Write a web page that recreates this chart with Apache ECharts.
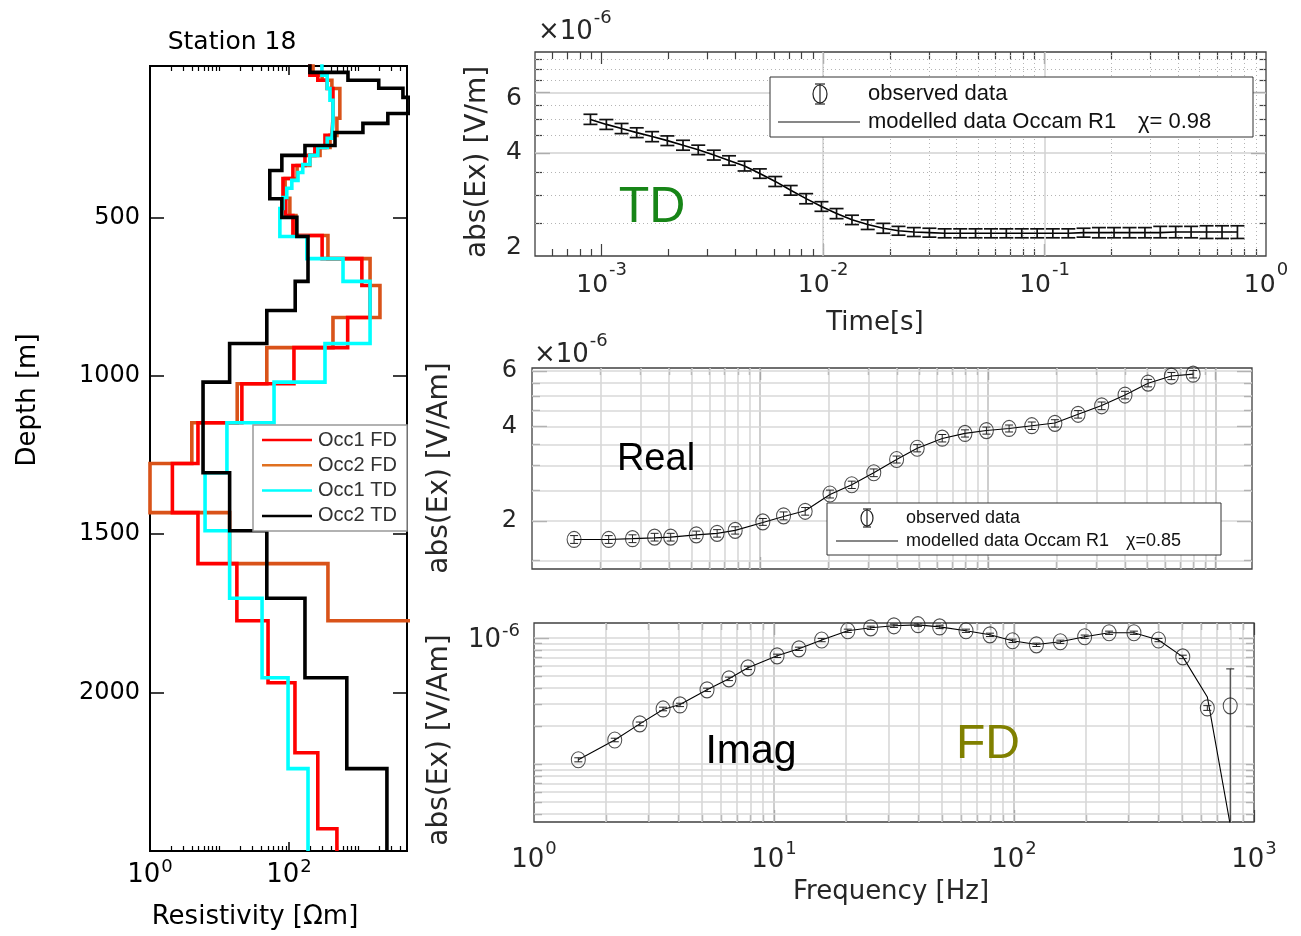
<!DOCTYPE html>
<html><head><meta charset="utf-8"><title>Station 18</title>
<script src="https://cdn.jsdelivr.net/npm/echarts@6.0.0/dist/echarts.min.js"></script>
<style>html,body{margin:0;padding:0;background:#fff;}#chart{width:1301px;height:936px;}</style>
</head><body><div id="chart"></div>
<script>
// ================= DATA =================
// --- Left panel: layered resistivity models (layer top depth [m], resistivity [Ohm m])
const depthMax = 2500;
const occ1FDTop = [0, 51, 67, 93, 187, 241, 279, 304, 336, 377, 440, 494, 557, 630, 715, 816, 911, 1025, 1148, 1277, 1432, 1593, 1773, 1969, 2190, 2430];
const occ1FDRho = [200, 260, 355, 430, 415, 330, 236, 170, 114, 82, 90, 114, 300, 1120, 1470, 700, 118, 21, 4.9, 2.1, 4.9, 17.8, 50, 122, 260, 490];
const occ2FDTop = [0, 51, 67, 93, 187, 241, 279, 304, 336, 377, 440, 494, 557, 630, 715, 816, 911, 1025, 1148, 1277, 1432, 1593, 1773, 1969, 2190, 2430];
const occ2FDRho = [222, 300, 415, 540, 490, 390, 280, 200, 131, 88, 103, 126, 364, 1470, 2040, 430, 48, 18, 4.0, 1.0, 14, 364, 20000, 20000, 20000, 20000];
const occ1TDTop = [0, 51, 93, 130, 200, 250, 279, 304, 333, 358, 383, 408, 437, 472, 560, 630, 702, 898, 1020, 1148, 1306, 1489, 1702, 1953, 2240];
const occ1TDRho = [298, 355, 389, 430, 415, 355, 260, 200, 158, 135, 110, 93, 82, 74, 181, 600, 1470, 330, 61, 12.8, 6.2, 14, 41, 97, 188];
const occ2TDTop = [0, 42, 67, 92, 121, 172, 203, 232, 273, 304, 352, 441, 500, 560, 702, 794, 898, 1020, 1306, 1489, 1702, 1953, 2240];
const occ2TDRho = [200, 707, 1960, 4370, 5500, 2650, 1160, 460, 170, 79, 53, 79, 130, 188, 123, 48, 14, 5.8, 14, 48, 170, 680, 2570];

// --- TD panel: time [s], abs(Ex) [x1e-6 V/m]
const tdTime = [0.00089, 0.00105, 0.00123, 0.00144, 0.00169, 0.00198, 0.00233, 0.00273, 0.00321, 0.00376, 0.00442, 0.00518, 0.00608, 0.00714, 0.00838, 0.00983, 0.0115, 0.0135, 0.0159, 0.0187, 0.0219, 0.0257, 0.0302, 0.0354, 0.0416, 0.0488, 0.0573, 0.0672, 0.0789, 0.0926, 0.109, 0.128, 0.150, 0.176, 0.206, 0.242, 0.284, 0.333, 0.391, 0.459, 0.539, 0.633, 0.743];
const tdObs = [5.01, 4.84, 4.71, 4.58, 4.46, 4.34, 4.21, 4.08, 3.94, 3.80, 3.66, 3.48, 3.30, 3.11, 2.94, 2.79, 2.66, 2.55, 2.47, 2.41, 2.37, 2.35, 2.34, 2.33, 2.33, 2.33, 2.33, 2.33, 2.33, 2.33, 2.33, 2.33, 2.34, 2.34, 2.34, 2.34, 2.34, 2.35, 2.35, 2.35, 2.35, 2.35, 2.35];
const tdErr = [0.17, 0.16, 0.16, 0.15, 0.15, 0.14, 0.14, 0.13, 0.13, 0.12, 0.12, 0.11, 0.11, 0.10, 0.10, 0.09, 0.09, 0.08, 0.08, 0.08, 0.07, 0.07, 0.07, 0.07, 0.07, 0.07, 0.07, 0.07, 0.07, 0.07, 0.07, 0.07, 0.07, 0.08, 0.08, 0.08, 0.08, 0.09, 0.09, 0.09, 0.10, 0.10, 0.10];
const tdModel = [5.00, 4.84, 4.71, 4.58, 4.46, 4.34, 4.21, 4.08, 3.94, 3.80, 3.66, 3.48, 3.30, 3.11, 2.94, 2.79, 2.66, 2.55, 2.47, 2.41, 2.37, 2.35, 2.34, 2.33, 2.33, 2.33, 2.33, 2.33, 2.33, 2.33, 2.33, 2.33, 2.34, 2.34, 2.34, 2.34, 2.34, 2.34, 2.35, 2.35, 2.35, 2.35, 2.35];

// --- FD panels: frequency [Hz], abs(Ex) [x1e-6 V/Am]
const freq = [1.53, 2.17, 2.76, 3.45, 4.06, 5.26, 6.49, 7.79, 10.3, 12.7, 15.8, 20.3, 25.3, 31.6, 39.8, 49.0, 63.1, 79.4, 98.6, 124, 156, 197, 249, 316, 400, 505, 639, 796];
const realObs = [1.75, 1.75, 1.76, 1.78, 1.78, 1.81, 1.83, 1.87, 1.99, 2.08, 2.15, 2.44, 2.61, 2.85, 3.14, 3.41, 3.67, 3.80, 3.88, 3.94, 4.02, 4.09, 4.37, 4.65, 5.03, 5.49, 5.78, 5.86];
const realErr = [0.05, 0.05, 0.05, 0.05, 0.05, 0.05, 0.05, 0.05, 0.05, 0.06, 0.06, 0.07, 0.07, 0.08, 0.08, 0.09, 0.10, 0.10, 0.10, 0.10, 0.11, 0.11, 0.12, 0.13, 0.14, 0.15, 0.15, 0.16];
const realModel = [1.75, 1.75, 1.76, 1.77, 1.78, 1.81, 1.83, 1.87, 1.98, 2.07, 2.16, 2.43, 2.61, 2.85, 3.14, 3.41, 3.66, 3.80, 3.88, 3.94, 4.02, 4.10, 4.37, 4.66, 5.03, 5.48, 5.78, 5.86];
const imagObs = [0.108, 0.155, 0.208, 0.273, 0.294, 0.387, 0.473, 0.578, 0.720, 0.818, 0.960, 1.137, 1.200, 1.245, 1.270, 1.220, 1.137, 1.056, 0.947, 0.880, 0.930, 1.020, 1.096, 1.096, 0.960, 0.706, 0.278, 0.289];
const imagErr = [0.004, 0.005, 0.007, 0.009, 0.009, 0.012, 0.015, 0.018, 0.022, 0.025, 0.029, 0.034, 0.036, 0.037, 0.038, 0.037, 0.034, 0.032, 0.029, 0.027, 0.028, 0.031, 0.033, 0.033, 0.029, 0.022, 0.012, 0.278];
const imagModel = [0.108, 0.155, 0.208, 0.270, 0.296, 0.387, 0.473, 0.578, 0.720, 0.818, 0.960, 1.137, 1.200, 1.245, 1.265, 1.220, 1.137, 1.056, 0.947, 0.885, 0.930, 1.020, 1.096, 1.096, 0.960, 0.706, 0.340, 0.033];

// --- Tick values / labels
const resMajor = [100];
const resMinor = [2, 3, 4, 5, 6, 7, 8, 9, 10, 20, 30, 40, 50, 60, 70, 80, 90, 200, 300, 400, 500, 600, 700, 800, 900, 1000, 2000, 3000, 4000];
const resLabels = [1, 100];
const depthTicks = [500, 1000, 1500, 2000];
const tdTimeMajor = [0.001, 0.01, 0.1];
const tdTimeMinor = [0.0006, 0.0007, 0.0008, 0.0009, 0.002, 0.003, 0.004, 0.005, 0.006, 0.007, 0.008, 0.009, 0.02, 0.03, 0.04, 0.05, 0.06, 0.07, 0.08, 0.09, 0.2, 0.3, 0.4, 0.5, 0.6, 0.7, 0.8, 0.9];
const tdTimeLabels = [0.001, 0.01, 0.1, 1];
const tdYMajor = [4, 6];
const tdYMinor = [2.5, 3, 3.5, 4.5, 5, 5.5, 6.5, 7, 7.5];
const tdYLabels = [2, 4, 6];
const freqMajor = [10, 100, 1000];
const freqMinor = [2, 3, 4, 5, 6, 7, 8, 9, 20, 30, 40, 50, 60, 70, 80, 90, 200, 300, 400, 500, 600, 700, 800, 900];
const freqLabels = [1, 10, 100, 1000];
const realYMajor = [2, 4, 6];
const realYMinor = [1.5, 2.5, 3, 3.5, 4.5, 5, 5.5];
const imagYMajor = [1];
const imagYMinor = [0.04, 0.05, 0.06, 0.07, 0.08, 0.09, 0.1, 0.2, 0.3, 0.4, 0.5, 0.6, 0.7, 0.8, 0.9];

// ================= CHART =================
const DJ = "'DejaVu Sans', sans-serif";
const LS = "'Liberation Sans', Arial, sans-serif";
const LSN = "'Liberation Sans Narrow', 'Liberation Sans', Arial, sans-serif";
const AX = '#262626', TK = '#404040';

const xAxes = [], yAxes = [];
function addAxis(list, grid, scale, pos, vals, len, color, width, label) {
  list.push(Object.assign({
    gridIndex: grid, position: pos, silent: true,
    axisLine: {show: false, onZero: false},
    splitLine: {show: false},
    axisTick: {show: true, inside: true, length: len, customValues: vals, lineStyle: {color: color, width: width}},
    axisLabel: label || {show: false}
  }, scale));
  return list.length - 1;
}
const expFmt = v => '{b|10}{s|' + Math.round(Math.log10(v)) + '}';
function supRich(size, supSize, lh, color) {
  return {
    b: {fontSize: size, fontFamily: DJ, color: color, lineHeight: lh, verticalAlign: 'bottom'},
    s: {fontSize: supSize, fontFamily: DJ, color: color, verticalAlign: 'top', padding: [0, 0, 0, 1]}
  };
}

// Grid 0 : resistivity profile
const sRes = {type: 'log', logBase: 10, min: 1, max: 5000};
const sDepth = {type: 'value', min: 22, max: depthMax, inverse: true};
const gx0 = addAxis(xAxes, 0, sRes, 'bottom', resMajor, 9, '#000', 1.5,
  {show: true, customValues: resLabels, margin: 7, formatter: expFmt, rich: supRich(26, 18, 30, '#000')});
addAxis(xAxes, 0, sRes, 'bottom', resMinor, 5, '#000', 1.2);
addAxis(xAxes, 0, sRes, 'top', resMajor, 9, '#000', 1.5);
addAxis(xAxes, 0, sRes, 'top', resMinor, 5, '#000', 1.2);
const gy0 = addAxis(yAxes, 0, sDepth, 'left', depthTicks, 14, '#000', 1.5,
  {show: true, customValues: depthTicks, margin: 10, fontSize: 24, fontFamily: DJ, color: '#000',
   formatter: v => String(Math.round(v))});
addAxis(yAxes, 0, sDepth, 'right', depthTicks, 14, '#000', 1.5);

// Grid 1 : TD
const sTime = {type: 'log', logBase: 10, min: 0.0005, max: 1};
const sTD = {type: 'log', logBase: 10, min: 2.0, max: 7.87};
const gx1 = addAxis(xAxes, 1, sTime, 'bottom', tdTimeMajor, 12, TK, 1.2,
  {show: true, customValues: tdTimeLabels, margin: 5, formatter: expFmt, rich: supRich(25, 18, 37, AX)});
addAxis(xAxes, 1, sTime, 'bottom', tdTimeMinor, 7, TK, 1.2);
addAxis(xAxes, 1, sTime, 'top', tdTimeMajor, 12, TK, 1.2);
addAxis(xAxes, 1, sTime, 'top', tdTimeMinor, 7, TK, 1.2);
const tdYRich = {
  n: {fontSize: 25, fontFamily: DJ, color: AX},
  lo: {fontSize: 25, fontFamily: DJ, color: AX, padding: [0, 0, 18, 0]},
  hi: {fontSize: 25, fontFamily: DJ, color: AX, padding: [12, 0, 0, 0]}
};
const gy1 = addAxis(yAxes, 1, sTD, 'left', tdYMajor, 15, TK, 1.2,
  {show: true, customValues: tdYLabels, margin: 13,
   formatter: v => (Math.abs(v - 2) < 1e-6 ? '{lo|2}' : (Math.abs(v - 6) < 1e-6 ? '{hi|6}' : '{n|' + Math.round(v) + '}')), rich: tdYRich});
addAxis(yAxes, 1, sTD, 'left', tdYMinor, 7, TK, 1.2);
addAxis(yAxes, 1, sTD, 'right', tdYMajor, 15, TK, 1.2);
addAxis(yAxes, 1, sTD, 'right', tdYMinor, 7, TK, 1.2);

// Grid 2 : Real
const sFreqR = {type: 'log', logBase: 10, min: 1, max: 1443};
const sReal = {type: 'log', logBase: 10, min: 1.41, max: 6.13};
const gx2 = addAxis(xAxes, 2, sFreqR, 'bottom', freqMajor, 12, TK, 1.2);
addAxis(xAxes, 2, sFreqR, 'bottom', freqMinor, 7, TK, 1.2);
addAxis(xAxes, 2, sFreqR, 'top', freqMajor, 12, TK, 1.2);
addAxis(xAxes, 2, sFreqR, 'top', freqMinor, 7, TK, 1.2);
const gy2 = addAxis(yAxes, 2, sReal, 'left', realYMajor, 15, TK, 1.2,
  {show: true, customValues: realYMajor, margin: 15, fontSize: 24, fontFamily: DJ, color: AX});
addAxis(yAxes, 2, sReal, 'left', realYMinor, 8, TK, 1.2);
addAxis(yAxes, 2, sReal, 'right', realYMajor, 15, TK, 1.2);
addAxis(yAxes, 2, sReal, 'right', realYMinor, 8, TK, 1.2);

// Grid 3 : Imag
const sFreqI = {type: 'log', logBase: 10, min: 1, max: 1000};
const sImag = {type: 'log', logBase: 10, min: 0.0347, max: 1.31};
const gx3 = addAxis(xAxes, 3, sFreqI, 'bottom', freqMajor, 12, TK, 1.2,
  {show: true, customValues: freqLabels, margin: 18, formatter: expFmt, rich: supRich(26, 18, 33, AX)});
addAxis(xAxes, 3, sFreqI, 'bottom', freqMinor, 7, TK, 1.2);
addAxis(xAxes, 3, sFreqI, 'top', freqMajor, 12, TK, 1.2);
addAxis(xAxes, 3, sFreqI, 'top', freqMinor, 7, TK, 1.2);
const gy3 = addAxis(yAxes, 3, sImag, 'left', imagYMajor, 15, TK, 1.2,
  {show: true, customValues: imagYMajor, margin: 14, formatter: v => '{b|10}{s|' + Math.round(Math.log10(v * 1e-6)) + '}', rich: supRich(26, 18, 31, AX)});
addAxis(yAxes, 3, sImag, 'left', imagYMinor, 8, TK, 1.2);
addAxis(yAxes, 3, sImag, 'right', imagYMajor, 15, TK, 1.2);
addAxis(yAxes, 3, sImag, 'right', imagYMinor, 8, TK, 1.2);

// ---------- grid lines (drawn through the axes as mark lines) ----------
const solidTD = {color: '#d2d2d2', width: 1.5, type: 'solid'};
const dotTD = {color: '#b4b4b4', width: 1, type: [1, 3]};
const gLine = {color: '#d8d8d8', width: 1.6, type: 'solid'};
const gMajor = {color: '#c2c2c2', width: 1.6, type: 'solid'};
function ml(items) {
  return {silent: true, symbol: ['none', 'none'], label: {show: false}, z: 1, animation: false,
          emphasis: {disabled: true}, data: items};
}
const tdGridLines = [].concat(
  tdTimeMajor.map(v => ({xAxis: v, lineStyle: solidTD})),
  tdTimeMinor.map(v => ({xAxis: v, lineStyle: dotTD})),
  tdYMajor.map(v => ({yAxis: v, lineStyle: solidTD})),
  tdYMinor.map(v => ({yAxis: v, lineStyle: dotTD})));
const realGridLines = [].concat(
  freqMajor.filter(v => v < 1443).map(v => ({xAxis: v, lineStyle: gMajor})),
  freqMinor.map(v => ({xAxis: v, lineStyle: gLine})),
  realYMajor.concat(realYMinor).map(v => ({yAxis: v, lineStyle: gLine})));
const imagGridLines = [].concat(
  freqMajor.filter(v => v < 1000).map(v => ({xAxis: v, lineStyle: gMajor})),
  freqMinor.map(v => ({xAxis: v, lineStyle: gLine})),
  imagYMajor.concat(imagYMinor).map(v => ({yAxis: v, lineStyle: gLine})));

// ---------- series ----------
function stepData(tops, rho) {
  const pts = [];
  for (let i = 0; i < tops.length; i++) {
    const bottom = i + 1 < tops.length ? tops[i + 1] : depthMax;
    pts.push([rho[i], tops[i]]);
    pts.push([rho[i], bottom]);
  }
  return pts;
}
function errRender(capHalf, color, lw) {
  return function (params, api) {
    const x = api.value(0), lo = api.value(1), hi = api.value(2);
    const a = api.coord([x, hi]), b = api.coord([x, lo]);
    const st = {stroke: color, lineWidth: lw, fill: null};
    return {type: 'group', children: [
      {type: 'line', shape: {x1: a[0], y1: a[1], x2: b[0], y2: b[1]}, style: st},
      {type: 'line', shape: {x1: a[0] - capHalf, y1: a[1], x2: a[0] + capHalf, y2: a[1]}, style: st},
      {type: 'line', shape: {x1: b[0] - capHalf, y1: b[1], x2: b[0] + capHalf, y2: b[1]}, style: st}
    ]};
  };
}
const ellipse = 'path://M0,10 A10,10 0 1,1 20,10 A10,10 0 1,1 0,10 Z';

const series = [];
[['Occ2 FD', occ2FDTop, occ2FDRho, '#D95319'],
 ['Occ1 FD', occ1FDTop, occ1FDRho, '#FF0000'],
 ['Occ1 TD', occ1TDTop, occ1TDRho, '#00FFFF'],
 ['Occ2 TD', occ2TDTop, occ2TDRho, '#000000']].forEach(function (s) {
  series.push({type: 'line', name: s[0], xAxisIndex: gx0, yAxisIndex: gy0, data: stepData(s[1], s[2]),
    symbol: 'none', showSymbol: false, clip: true, silent: true, z: 3,
    lineStyle: {color: s[3], width: 3.6, join: 'miter', cap: 'butt'}});
});

// TD
series.push({type: 'line', name: 'td model', xAxisIndex: gx1, yAxisIndex: gy1,
  data: tdTime.map((t, i) => [t, tdModel[i]]), symbol: 'none', clip: true, silent: true, z: 3,
  lineStyle: {color: '#000', width: 1.6}, markLine: ml(tdGridLines)});
series.push({type: 'custom', name: 'td obs', xAxisIndex: gx1, yAxisIndex: gy1, clip: true, silent: true, z: 4,
  renderItem: errRender(7, '#111', 1.7), encode: {x: 0, y: [1, 2]},
  data: tdTime.map((t, i) => [t, tdObs[i] - tdErr[i], tdObs[i] + tdErr[i]])});

// Real
series.push({type: 'line', name: 'real model', xAxisIndex: gx2, yAxisIndex: gy2,
  data: freq.map((f, i) => [f, realModel[i]]), symbol: 'none', clip: true, silent: true, z: 3,
  lineStyle: {color: '#000', width: 1.1}, markLine: ml(realGridLines)});
series.push({type: 'custom', name: 'real err', xAxisIndex: gx2, yAxisIndex: gy2, clip: true, silent: true, z: 4,
  renderItem: errRender(4, '#222', 1), encode: {x: 0, y: [1, 2]},
  data: freq.map((f, i) => [f, realObs[i] - realErr[i], realObs[i] + realErr[i]])});
series.push({type: 'scatter', name: 'real obs', xAxisIndex: gx2, yAxisIndex: gy2, clip: true, silent: true, z: 5,
  symbol: ellipse, symbolSize: [14, 16], data: freq.map((f, i) => [f, realObs[i]]),
  itemStyle: {color: 'rgba(0,0,0,0)', borderColor: '#222', borderWidth: 1.1}});

// Imag
series.push({type: 'line', name: 'imag model', xAxisIndex: gx3, yAxisIndex: gy3,
  data: freq.map((f, i) => [f, imagModel[i]]), symbol: 'none', clip: true, silent: true, z: 3,
  lineStyle: {color: '#000', width: 1.1}, markLine: ml(imagGridLines)});
series.push({type: 'custom', name: 'imag err', xAxisIndex: gx3, yAxisIndex: gy3, clip: true, silent: true, z: 4,
  renderItem: errRender(4, '#222', 1), encode: {x: 0, y: [1, 2]},
  data: freq.map((f, i) => [f, imagObs[i] - imagErr[i], imagObs[i] + imagErr[i]])});
series.push({type: 'scatter', name: 'imag obs', xAxisIndex: gx3, yAxisIndex: gy3, clip: true, silent: true, z: 5,
  symbol: ellipse, symbolSize: [14, 16], data: freq.map((f, i) => [f, imagObs[i]]),
  itemStyle: {color: 'rgba(0,0,0,0)', borderColor: '#222', borderWidth: 1.1}});

// ---------- graphic texts and legends ----------
const graphics = [];
function T(x, y, text, size, family, color, opt) {
  opt = opt || {};
  const g = {type: 'text', x: x, y: y, z: 100, silent: true,
    style: {text: text, fontSize: size, fontFamily: family, fill: color,
            align: opt.align || 'center', verticalAlign: opt.valign || 'middle', rich: opt.rich}};
  if (opt.rotation) g.rotation = opt.rotation;
  graphics.push(g);
}
const ROT = Math.PI / 2;
T(232, 42, 'Station 18', 25, DJ, '#000');
T(28, 400, 'Depth [m]', 26, DJ, '#000', {rotation: ROT});
T(255, 917, 'Resistivity [\u03A9m]', 26, DJ, '#000');
T(478, 162, 'abs(Ex) [V/m]', 28, DJ, AX, {rotation: ROT});
T(875, 323, 'Time[s]', 26, DJ, AX);
T(440, 468, 'abs(Ex) [V/Am]', 28, DJ, AX, {rotation: ROT});
T(440, 740, 'abs(Ex) [V/Am]', 28, DJ, AX, {rotation: ROT});
T(891, 892, 'Frequency [Hz]', 26, DJ, AX);
T(652, 208, 'TD', 50, LSN, '#178517');
T(656, 460, 'Real', 38, LS, '#000');
T(751, 752, 'Imag', 41, LS, '#000');
T(988, 745, 'FD', 48, LSN, '#808000');
const expRich = supRich(26, 18, 36, AX);
T(538, 27, '{b|\u00D710}{s|-6}', 26, DJ, AX, {align: 'left', rich: expRich});
T(534, 350, '{b|\u00D710}{s|-6}', 26, DJ, AX, {align: 'left', rich: expRich});

function R(x, y, w, h, stroke, lw) {
  graphics.push({type: 'rect', z: 99, silent: true, shape: {x: x, y: y, width: w, height: h},
    style: {fill: '#fff', stroke: stroke, lineWidth: lw}});
}
function L(x1, y1, x2, y2, color, lw) {
  graphics.push({type: 'line', z: 100, silent: true, shape: {x1: x1, y1: y1, x2: x2, y2: y2},
    style: {stroke: color, lineWidth: lw}});
}
function obsSymbol(cx, cy, rx, ry, bar, cap) {
  graphics.push({type: 'ellipse', z: 100, silent: true, shape: {cx: cx, cy: cy, rx: rx, ry: ry},
    style: {fill: 'rgba(0,0,0,0)', stroke: '#222', lineWidth: 1.2}});
  L(cx, cy - bar, cx, cy + bar, '#222', 1.2);
  L(cx - cap, cy - bar, cx + cap, cy - bar, '#222', 1.2);
  L(cx - cap, cy + bar, cx + cap, cy + bar, '#222', 1.2);
}
// left legend
R(253, 425, 154, 106, '#999', 1.5);
[['Occ1 FD', '#FF0000'], ['Occ2 FD', '#E07020'], ['Occ1 TD', '#00FFFF'], ['Occ2 TD', '#000']].forEach(function (e, i) {
  const y = 440 + i * 25.3;
  L(262, y, 312, y, e[1], 2.5);
  T(318, y, e[0], 20, LS, '#333', {align: 'left'});
});
// TD legend
R(770, 77, 483, 60, '#333', 1);
obsSymbol(820, 94, 7, 9, 10, 5);
T(868, 94, 'observed data', 22, LS, '#111', {align: 'left'});
L(778, 122, 860, 122, '#111', 1.2);
T(868, 122, 'modelled data Occam R1', 22, LS, '#111', {align: 'left'});
T(1138, 122, '\u03C7= 0.98', 22, LS, '#111', {align: 'left'});
// Real legend
R(827, 503, 394, 52, '#333', 1);
obsSymbol(867, 518, 6, 8, 9, 4);
T(906, 518, 'observed data', 18, LS, '#111', {align: 'left'});
L(836, 541, 898, 541, '#111', 1.1);
T(906, 541, 'modelled data Occam R1', 18, LS, '#111', {align: 'left'});
T(1126, 541, '\u03C7=0.85', 18, LS, '#111', {align: 'left'});

const gridBase = {show: true, containLabel: false, outerBoundsMode: 'none', backgroundColor: 'rgba(0,0,0,0)'};
const option = {
  animation: false,
  backgroundColor: '#fff',
  grid: [
    Object.assign({left: 150, top: 66, width: 257, height: 785, borderColor: '#000', borderWidth: 2}, gridBase),
    Object.assign({left: 535, top: 52, width: 731, height: 204, borderColor: '#404040', borderWidth: 1.3}, gridBase),
    Object.assign({left: 532, top: 368, width: 720, height: 201, borderColor: '#404040', borderWidth: 1.3}, gridBase),
    Object.assign({left: 534, top: 623, width: 720, height: 199, borderColor: '#404040', borderWidth: 1.3}, gridBase)
  ],
  xAxis: xAxes,
  yAxis: yAxes,
  series: series,
  graphic: {elements: graphics}
};
const chart = echarts.init(document.getElementById('chart'), null, {renderer: 'canvas'});
chart.setOption(option);
</script></body></html>
